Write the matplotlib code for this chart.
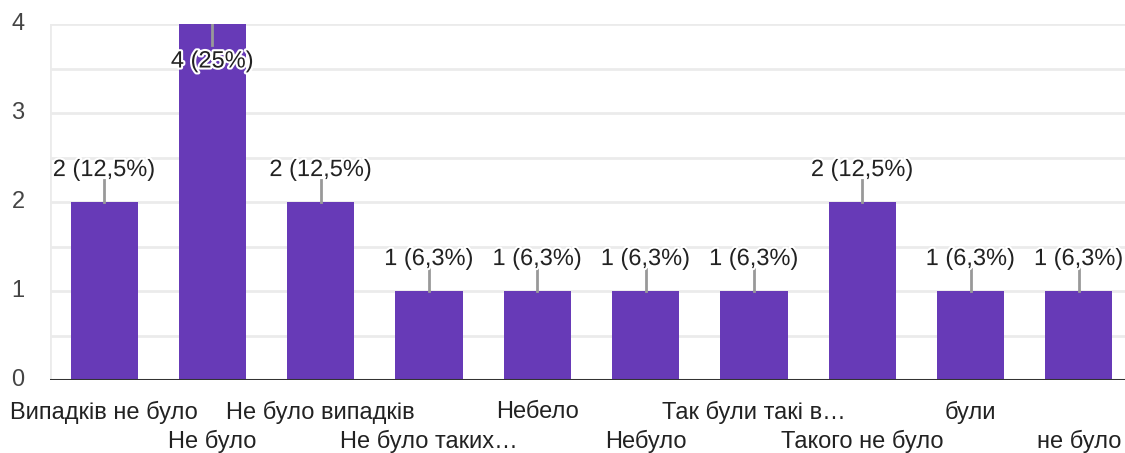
import matplotlib.pyplot as plt
import matplotlib.patheffects as pe
from matplotlib.transforms import blended_transform_factory

# ответы (категории) и количество
categories = ["Випадків не було", "Не було", "Не було випадків", "Не було таких…",
              "Небело", "Небуло", "Так були такі в…", "Такого не було",
              "були", "не було"]
counts = [2, 4, 2, 1, 1, 1, 1, 2, 1, 1]
percents = ["12,5%", "25%", "12,5%", "6,3%", "6,3%", "6,3%", "6,3%", "12,5%", "6,3%", "6,3%"]
y_ticks = [0, 1, 2, 3, 4]

plt.rcParams["font.family"] = ["Liberation Sans", "DejaVu Sans"]

BAR = "#673ab7"
TXT = "#222222"
FS = 17

fig = plt.figure(figsize=(11.25, 4.53), dpi=100)
ax = fig.add_axes([50 / 1125, (453 - 380) / 453, 1083 / 1125, 356 / 453])

x = list(range(len(categories)))
ax.bar(x, counts, width=0.62, color=BAR, zorder=3)

ax.set_xlim(-0.5, len(categories) - 0.5)
ax.set_ylim(0, 4)

# сетка через 0.5
for yv in [0.5 * k for k in range(1, 9)]:
    ax.axhline(yv, color="#ebebeb", lw=2, zorder=1)
ax.axvline(-0.5, color="#ebebeb", lw=2, zorder=1)

for s in ax.spines.values():
    s.set_visible(False)
ax.axhline(0, color="#333333", lw=2.2, zorder=4)

ax.set_xticks([])
ax.set_yticks([])

# подписи оси Y
tr = blended_transform_factory(fig.transFigure, ax.transData)
for v in y_ticks:
    fig.text(18 / 1125, v, str(v), transform=tr, ha="center", va="center",
             fontsize=FS, color="#444444")

# подписи категорий в два ряда
for i, name in enumerate(categories):
    dy = -23 if i % 2 == 0 else -44.5
    ax.annotate(name, xy=(i, 0), xytext=(0, dy), textcoords="offset points",
                ha="center", va="center", fontsize=FS, color=TXT,
                annotation_clip=False)

# подписи значений с выносными линиями
halo = [pe.withStroke(linewidth=3, foreground="white")]
for i, (c, p) in enumerate(zip(counts, percents)):
    label = f"{c} ({p})"
    if c >= 4:
        ax.plot([i, i], [c, c - 0.24], color="#999999", lw=2, zorder=5)
        ax.annotate(label, xy=(i, c), xytext=(0, -27), textcoords="offset points",
                    ha="center", va="center", fontsize=FS, color=TXT,
                    path_effects=halo, zorder=6)
    else:
        ax.plot([i, i], [c, c + 0.25], color="#999999", lw=2, zorder=5)
        ax.annotate(label, xy=(i, c), xytext=(0, 23), textcoords="offset points",
                    ha="center", va="center", fontsize=FS, color=TXT,
                    path_effects=halo, zorder=6)

fig.savefig("out.png", dpi=100)
